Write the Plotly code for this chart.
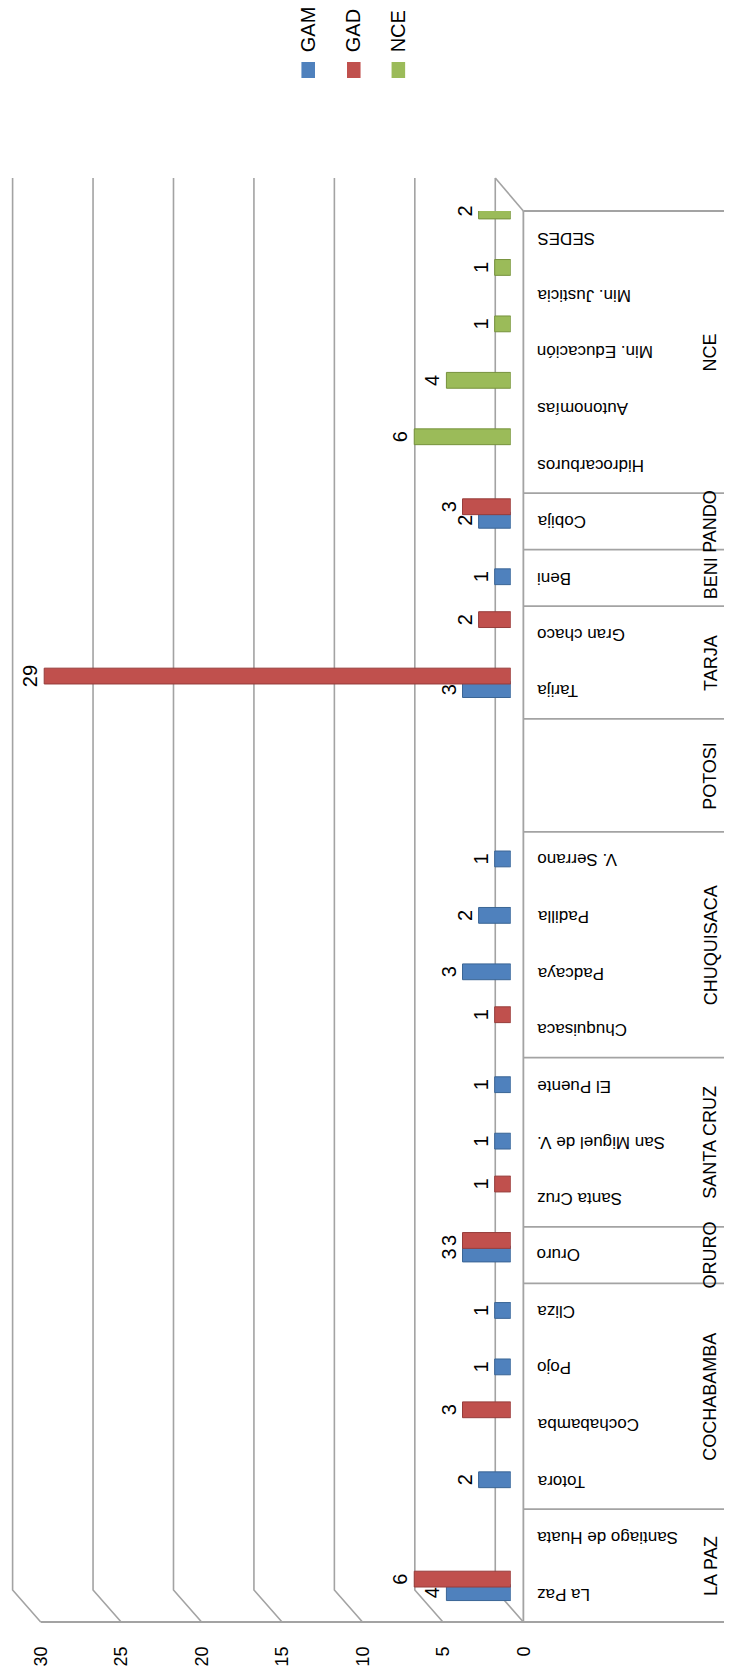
import plotly.graph_objects as go

# ---------------- data ----------------
categories = ["La Paz", "Santiago de Huata", "Totora", "Cochabamba", "Pojo", "Cliza",
              "Oruro", "Santa Cruz", "San Miguel de V.", "El Puente", "Chuquisaca",
              "Padcaya", "Padilla", "V. Serrano", " ", "  ", "Tarija", "Gran chaco",
              "Beni", "Cobija", "Hidrocarburos", "Autonomías", "Min. Educación",
              "Min. Justicia", "SEDES"]
gam = [4, None, 2, None, 1, 1, 3, None, 1, 1, None, 3, 2, 1, None, None, 3, None,
       1, 2, None, None, None, None, None]
gad = [6, None, None, 3, None, None, 3, 1, None, None, 1, None, None, None, None,
       None, 29, 2, None, 3, None, None, None, None, None]
nce = [None, None, None, None, None, None, None, None, None, None, None, None, None,
       None, None, None, None, None, None, None, 6, 4, 1, 1, 2]
series_names = ["GAM", "GAD", "NCE"]
series_colors = ["#4F81BD", "#C0504D", "#9BBB59"]
series_edges = ["#3A6595", "#963C3A", "#76923C"]
groups = ["LA PAZ", "COCHABAMBA", "ORURO", "SANTA CRUZ", "CHUQUISACA", "POTOSI",
          "TARJA", "BENI", "PANDO", "NCE"]
group_sizes = [2, 4, 1, 3, 4, 2, 2, 1, 1, 5]
tick_values = [0, 5, 10, 15, 20, 25, 30]

# ---------------- layout constants (pixels) ----------------
W, H = 747, 1678
FRONT0, FRONT30 = 540, 42          # value axis labels (front edge)
BAR_SHIFT = 13                     # bars sit a little behind the front edge
DEPTH_X, DEPTH_Y = 29, 32          # 3D back-wall offset
TOP, BOTTOM = 211, 1622            # category axis extent
WALL_TOP = 178
TABLE_R = W
CAT_LABEL_X = 552
GROUP_LABEL_X = 733
FONT = "Liberation Sans, Arial, sans-serif"


def fx(p):
    return p / W


def fy(p):
    return (H - p) / H


n = len(categories)
cat_px = (BOTTOM - TOP) / n


def front_x(v):
    return FRONT0 - v * (FRONT0 - FRONT30) / 30.0


fig = go.Figure()

values = [gam, gad, nce]
offsets = [-0.12, 0.12, 0.36]
for name, vals, col, edge, off in zip(series_names, values, series_colors, series_edges, offsets):
    fig.add_trace(go.Bar(
        y=categories, x=vals, orientation="h", name=name,
        marker=dict(color=col, line=dict(color=edge, width=1)),
        width=0.28, offset=off,
        text=[str(v) if v else "" for v in vals],
        textposition="outside", textangle=-90, constraintext="none",
        textfont=dict(size=20, color="black", family=FONT),
        cliponaxis=False, showlegend=False, hoverinfo="x+y",
    ))

shapes = []
grid_col = "#a3a3a3"
# back wall gridlines bending onto the floor
for v in tick_values:
    fxp = front_x(v)
    bxp = fxp - DEPTH_X
    path = "M {:.5f},{:.5f} L {:.5f},{:.5f} L {:.5f},{:.5f}".format(
        fx(bxp), fy(WALL_TOP), fx(bxp), fy(BOTTOM - DEPTH_Y), fx(fxp), fy(BOTTOM))
    shapes.append(dict(type="path", xref="paper", yref="paper", path=path,
                       line=dict(color=grid_col, width=1.6), layer="below"))
# side wall top edge
shapes.append(dict(type="line", xref="paper", yref="paper",
                   x0=fx(FRONT0 - DEPTH_X), y0=fy(WALL_TOP), x1=fx(FRONT0), y1=fy(TOP),
                   line=dict(color=grid_col, width=1.6)))
# floor front line
shapes.append(dict(type="line", xref="paper", yref="paper",
                   x0=fx(FRONT30), y0=fy(BOTTOM), x1=fx(TABLE_R), y1=fy(BOTTOM),
                   line=dict(color=grid_col, width=1.8)))
# category axis front line
shapes.append(dict(type="line", xref="paper", yref="paper",
                   x0=fx(FRONT0), y0=fy(TOP), x1=fx(FRONT0), y1=fy(BOTTOM),
                   line=dict(color=grid_col, width=1.8)))
# group separators
start = 0
bounds = [0]
for s in group_sizes:
    start += s
    bounds.append(start)
for b in bounds:
    ypx = BOTTOM - b * cat_px
    shapes.append(dict(type="line", xref="paper", yref="paper",
                       x0=fx(FRONT0), y0=fy(ypx), x1=fx(TABLE_R), y1=fy(ypx),
                       line=dict(color=grid_col, width=1.8)))

annotations = []
# category labels (upside down)
for i, c in enumerate(categories):
    if c.strip():
        annotations.append(dict(text=c, xref="paper", yref="y", x=fx(CAT_LABEL_X), y=c,
                                xanchor="left", yanchor="middle", textangle=180,
                                showarrow=False, font=dict(size=17, color="black", family=FONT)))
# group labels
for g, a, b in zip(groups, bounds[:-1], bounds[1:]):
    ymid = BOTTOM - (a + b) / 2 * cat_px
    annotations.append(dict(text=g, xref="paper", yref="paper", x=fx(GROUP_LABEL_X), y=fy(ymid),
                            xanchor="center", yanchor="middle", textangle=-90,
                            showarrow=False, font=dict(size=18, color="black", family=FONT)))
# legend
legend_x = [318, 365, 411]
for name, col, lx in zip(series_names, series_colors, legend_x):
    shapes.append(dict(type="rect", xref="paper", yref="paper",
                       x0=fx(lx - 7), x1=fx(lx + 7), y0=fy(78), y1=fy(62),
                       fillcolor=col, line=dict(width=0)))
    annotations.append(dict(text=name, xref="paper", yref="paper", x=fx(lx), y=fy(54),
                            xanchor="center", yanchor="bottom", textangle=-90,
                            showarrow=False, font=dict(size=20, color="black", family=FONT)))

bar_right = FRONT0 - BAR_SHIFT
bar_left = FRONT30 - BAR_SHIFT

fig.update_layout(
    width=W, height=H,
    margin=dict(l=0, r=0, t=0, b=0),
    paper_bgcolor="white", plot_bgcolor="rgba(0,0,0,0)",
    barmode="overlay",
    showlegend=False,
    xaxis=dict(domain=[fx(bar_left), fx(bar_right)], range=[30, 0],
               tickvals=tick_values, ticktext=[str(t) for t in tick_values],
               tickangle=-90, ticks="", ticklabelstandoff=20, ticklabelshift=-BAR_SHIFT,
               showgrid=False, zeroline=False, showline=False, fixedrange=True,
               tickfont=dict(size=18, color="black", family=FONT)),
    yaxis=dict(domain=[fy(BOTTOM), fy(TOP)], type="category",
               categoryorder="array", categoryarray=categories,
               range=[-0.5, n - 0.5], showticklabels=False, showgrid=False,
               zeroline=False, showline=False, fixedrange=True),
    shapes=shapes,
    annotations=annotations,
)

fig.write_html("out.html", config={"displayModeBar": False},
               post_script="document.body.style.margin='0';document.body.style.overflow='hidden';")
